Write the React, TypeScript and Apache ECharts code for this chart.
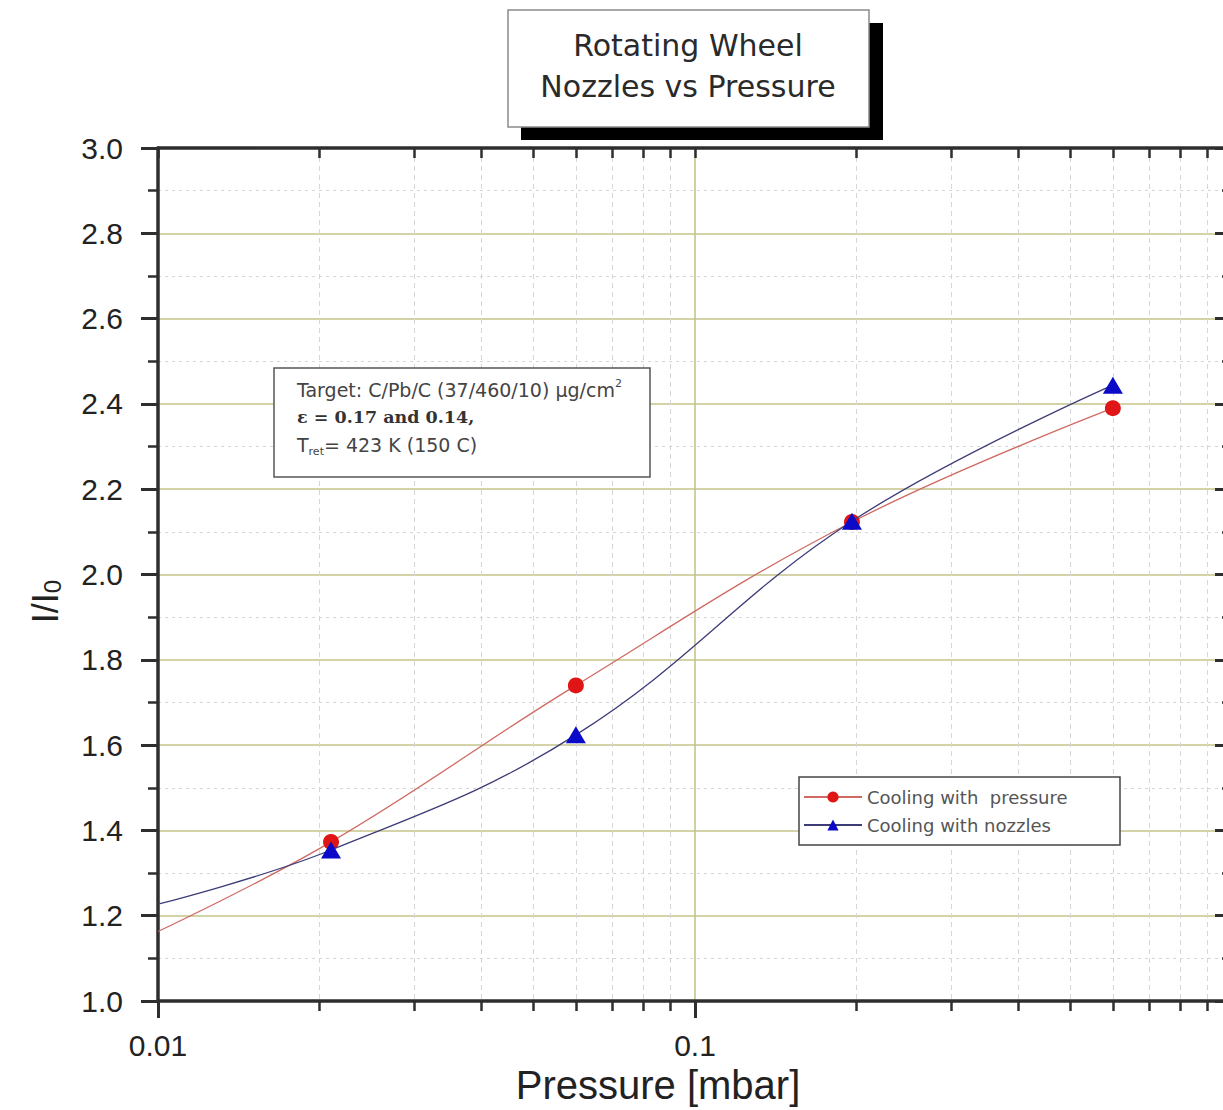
import React, { useEffect, useRef } from "react";
import * as echarts from "echarts";

// ---------- data ----------
const pressureName = "Cooling with  pressure";
const nozzlesName = "Cooling with nozzles";

// measured points [pressure (mbar), I/I0]
const pressurePoints: [number, number][] = [
  [0.021, 1.373],
  [0.06, 1.74],
  [0.196, 2.123],
  [0.6, 2.39],
];
const nozzlesPoints: [number, number][] = [
  [0.021, 1.354],
  [0.06, 1.624],
  [0.196, 2.125],
  [0.6, 2.444],
];
// where the fitted curves meet the left axis
const pressureCurveStart: [number, number] = [0.01, 1.163];
const nozzlesCurveStart: [number, number] = [0.01, 1.227];

const xMajorValues = [0.01, 0.1, 1];
const xTickLabels = ["0.01", "0.1", ""]; // "1" lies outside the visible picture
const xMinorValues = [
  0.02, 0.03, 0.04, 0.05, 0.06, 0.07, 0.08, 0.09,
  0.2, 0.3, 0.4, 0.5, 0.6, 0.7, 0.8, 0.9,
];
const yMin = 1.0;
const yMax = 3.0;
const yStep = 0.2;

const titleLines = ["Rotating Wheel", "Nozzles vs Pressure"];
const xAxisTitle = "Pressure [mbar]";

const AXIS_COLOR = "#2e2e2e";
const MAJOR_GRID = "#c4c48a";
const MINOR_GRID = "#d6d6d6";
const SANS = "Liberation Sans, Arial, sans-serif";
const WIDE = "DejaVu Sans, sans-serif";

export default function App() {
  const ref = useRef<HTMLDivElement>(null);

  useEffect(() => {
    if (!ref.current) return;
    const chart = echarts.init(ref.current, undefined, { renderer: "svg" });

    const xLabel = (v: number) => {
      const i = xMajorValues.findIndex((m) => Math.abs(m - v) / m < 1e-6);
      return i >= 0 ? xTickLabels[i] : "";
    };

    const option: echarts.EChartsOption = {
      animation: false,
      backgroundColor: "#ffffff",
      grid: { left: 158, top: 148, right: 8, bottom: 109, containLabel: false },
      xAxis: [
        {
          type: "log",
          logBase: 10,
          min: 0.01,
          max: 1,
          position: "bottom",
          axisLine: { show: true, onZero: false, lineStyle: { color: AXIS_COLOR, width: 3.5 } },
          axisTick: { show: true, length: 17, lineStyle: { color: AXIS_COLOR, width: 3 } },
          axisLabel: {
            show: true,
            showMaxLabel: false,
            margin: 29,
            fontSize: 30,
            fontFamily: SANS,
            color: "#222",
            formatter: xLabel as any,
          },
          splitLine: { show: true, lineStyle: { color: MAJOR_GRID, width: 1.6 } },
          name: xAxisTitle,
          nameLocation: "middle",
          nameGap: 62,
          nameTextStyle: {
            fontSize: 40,
            fontFamily: SANS,
            color: "#222",
            padding: [0, 74, 0, 0],
          },
        },
        {
          type: "log",
          logBase: 10,
          min: 0.01,
          max: 1,
          position: "bottom",
          axisLine: { show: false, onZero: false },
          axisTick: {
            show: true,
            customValues: xMinorValues,
            length: 10,
            lineStyle: { color: AXIS_COLOR, width: 2.5 },
          },
          axisLabel: { show: false },
          splitLine: { show: true, lineStyle: { color: MINOR_GRID, width: 1, type: [5, 4] } },
        },
        {
          type: "log",
          logBase: 10,
          min: 0.01,
          max: 1,
          position: "top",
          axisLine: { show: true, onZero: false, lineStyle: { color: AXIS_COLOR, width: 3.5 } },
          axisTick: {
            show: true,
            inside: true,
            customValues: [...xMajorValues, ...xMinorValues],
            length: 10,
            lineStyle: { color: AXIS_COLOR, width: 2.5 },
          },
          axisLabel: { show: false },
          splitLine: { show: false },
        },
      ],
      yAxis: [
        {
          type: "value",
          min: yMin,
          max: yMax,
          interval: yStep,
          position: "left",
          axisLine: { show: true, onZero: false, lineStyle: { color: AXIS_COLOR, width: 3.5 } },
          axisTick: { show: true, length: 17, lineStyle: { color: AXIS_COLOR, width: 3 } },
          minorTick: { show: true, splitNumber: 2, length: 10, lineStyle: { color: AXIS_COLOR, width: 2.5 } },
          axisLabel: {
            margin: 35,
            fontSize: 30,
            fontFamily: SANS,
            color: "#222",
            formatter: (v: number) => v.toFixed(1),
          },
          splitLine: { show: true, lineStyle: { color: MAJOR_GRID, width: 1.6 } },
          minorSplitLine: { show: true, lineStyle: { color: MINOR_GRID, width: 1, type: [3, 4] } },
          name: "I/I{sub|0}",
          nameLocation: "middle",
          nameGap: 94,
          nameRotate: 90,
          nameTextStyle: {
            fontSize: 36,
            fontFamily: SANS,
            color: "#222",
            padding: [0, 54, 0, 0],
            rich: {
              sub: {
                fontSize: 24,
                fontFamily: SANS,
                color: "#222",
                verticalAlign: "bottom",
                padding: [14, 0, 0, 0],
              },
            },
          },
        },
        {
          type: "value",
          min: yMin,
          max: yMax,
          interval: yStep,
          position: "right",
          axisLine: { show: true, onZero: false, lineStyle: { color: AXIS_COLOR, width: 3.5 } },
          axisTick: { show: true, inside: true, length: 17, lineStyle: { color: AXIS_COLOR, width: 3 } },
          minorTick: { show: true, splitNumber: 2, length: 10, lineStyle: { color: AXIS_COLOR, width: 2.5 } },
          axisLabel: { show: false },
          splitLine: { show: false },
        },
      ],
      legend: {
        orient: "vertical",
        left: 803,
        top: 788,
        z: 60,
        itemWidth: 58,
        itemHeight: 14,
        itemGap: 10,
        padding: 0,
        textStyle: { fontSize: 18, color: "#555", fontFamily: WIDE },
        data: [pressureName, nozzlesName],
      },
      graphic: [
        // title box with shadow
        { type: "rect", z: 50, shape: { x: 521, y: 23, width: 362, height: 117 }, style: { fill: "#000" } },
        {
          type: "rect",
          z: 51,
          shape: { x: 508, y: 10, width: 361, height: 117 },
          style: { fill: "#fff", stroke: "#8a8a8a", lineWidth: 1.5 },
        },
        {
          type: "text",
          z: 52,
          x: 688,
          y: 45,
          style: {
            text: titleLines[0],
            fontSize: 30,
            fontFamily: WIDE,
            fill: "#2a2a2a",
            textAlign: "center",
            textVerticalAlign: "middle",
          } as any,
        },
        {
          type: "text",
          z: 52,
          x: 688,
          y: 86,
          style: {
            text: titleLines[1],
            fontSize: 30,
            fontFamily: WIDE,
            fill: "#2a2a2a",
            textAlign: "center",
            textVerticalAlign: "middle",
          } as any,
        },
        // annotation box
        {
          type: "rect",
          z: 50,
          shape: { x: 274, y: 368, width: 376, height: 109 },
          style: { fill: "#fff", stroke: "#555", lineWidth: 1.5 },
        },
        {
          type: "text",
          z: 52,
          x: 297,
          y: 390,
          style: {
            text: "{n|Target: C/Pb/C (37/460/10) μg/cm}{sup|2}",
            textVerticalAlign: "middle",
            rich: {
              n: { fontSize: 19, fontFamily: WIDE, fill: "#444", lineHeight: 24, verticalAlign: "middle" },
              sup: { fontSize: 11, fontFamily: WIDE, fill: "#444", lineHeight: 12, verticalAlign: "top" },
            },
          } as any,
        },
        {
          type: "text",
          z: 52,
          x: 297,
          y: 417,
          style: {
            text: "ε = 0.17 and 0.14,",
            fontSize: 17.5,
            fontWeight: "bold",
            fontFamily: "DejaVu Serif, serif",
            fill: "#333",
            textVerticalAlign: "middle",
          } as any,
        },
        {
          type: "text",
          z: 52,
          x: 297,
          y: 445,
          style: {
            text: "{n|T}{sub|ret}{n|= 423 K (150 C)}",
            textVerticalAlign: "middle",
            rich: {
              n: { fontSize: 19, fontFamily: WIDE, fill: "#444", lineHeight: 24, verticalAlign: "middle" },
              sub: { fontSize: 11, fontFamily: WIDE, fill: "#444", lineHeight: 12, verticalAlign: "bottom" },
            },
          } as any,
        },
        // legend box
        {
          type: "rect",
          z: 50,
          shape: { x: 799, y: 777, width: 321, height: 68 },
          style: { fill: "#fff", stroke: "#444", lineWidth: 1.5 },
        },
      ],
      series: [
        {
          type: "line",
          name: pressureName,
          xAxisIndex: 0,
          yAxisIndex: 0,
          z: 5,
          smooth: 0.4,
          symbol: "circle",
          symbolSize: 16,
          itemStyle: { color: "#e01515" },
          lineStyle: { color: "#cf6a62", width: 1.3 },
          data: [{ value: pressureCurveStart, symbol: "none" } as any, ...pressurePoints],
        },
        {
          type: "line",
          name: nozzlesName,
          xAxisIndex: 0,
          yAxisIndex: 0,
          z: 6,
          smooth: 0.4,
          symbol: "triangle",
          symbolSize: [20, 17],
          itemStyle: { color: "#0a0ac8" },
          lineStyle: { color: "#3c3c78", width: 1.3 },
          data: [{ value: nozzlesCurveStart, symbol: "none" } as any, ...nozzlesPoints],
        },
      ],
    };

    chart.setOption(option);
    return () => chart.dispose();
  }, []);

  return (
    <div
      style={{
        position: "absolute",
        left: 0,
        top: 0,
        width: 1223,
        height: 1110,
        overflow: "hidden",
        background: "#fff",
      }}
    >
      <div ref={ref} style={{ width: 1240, height: 1110 }} />
    </div>
  );
}
